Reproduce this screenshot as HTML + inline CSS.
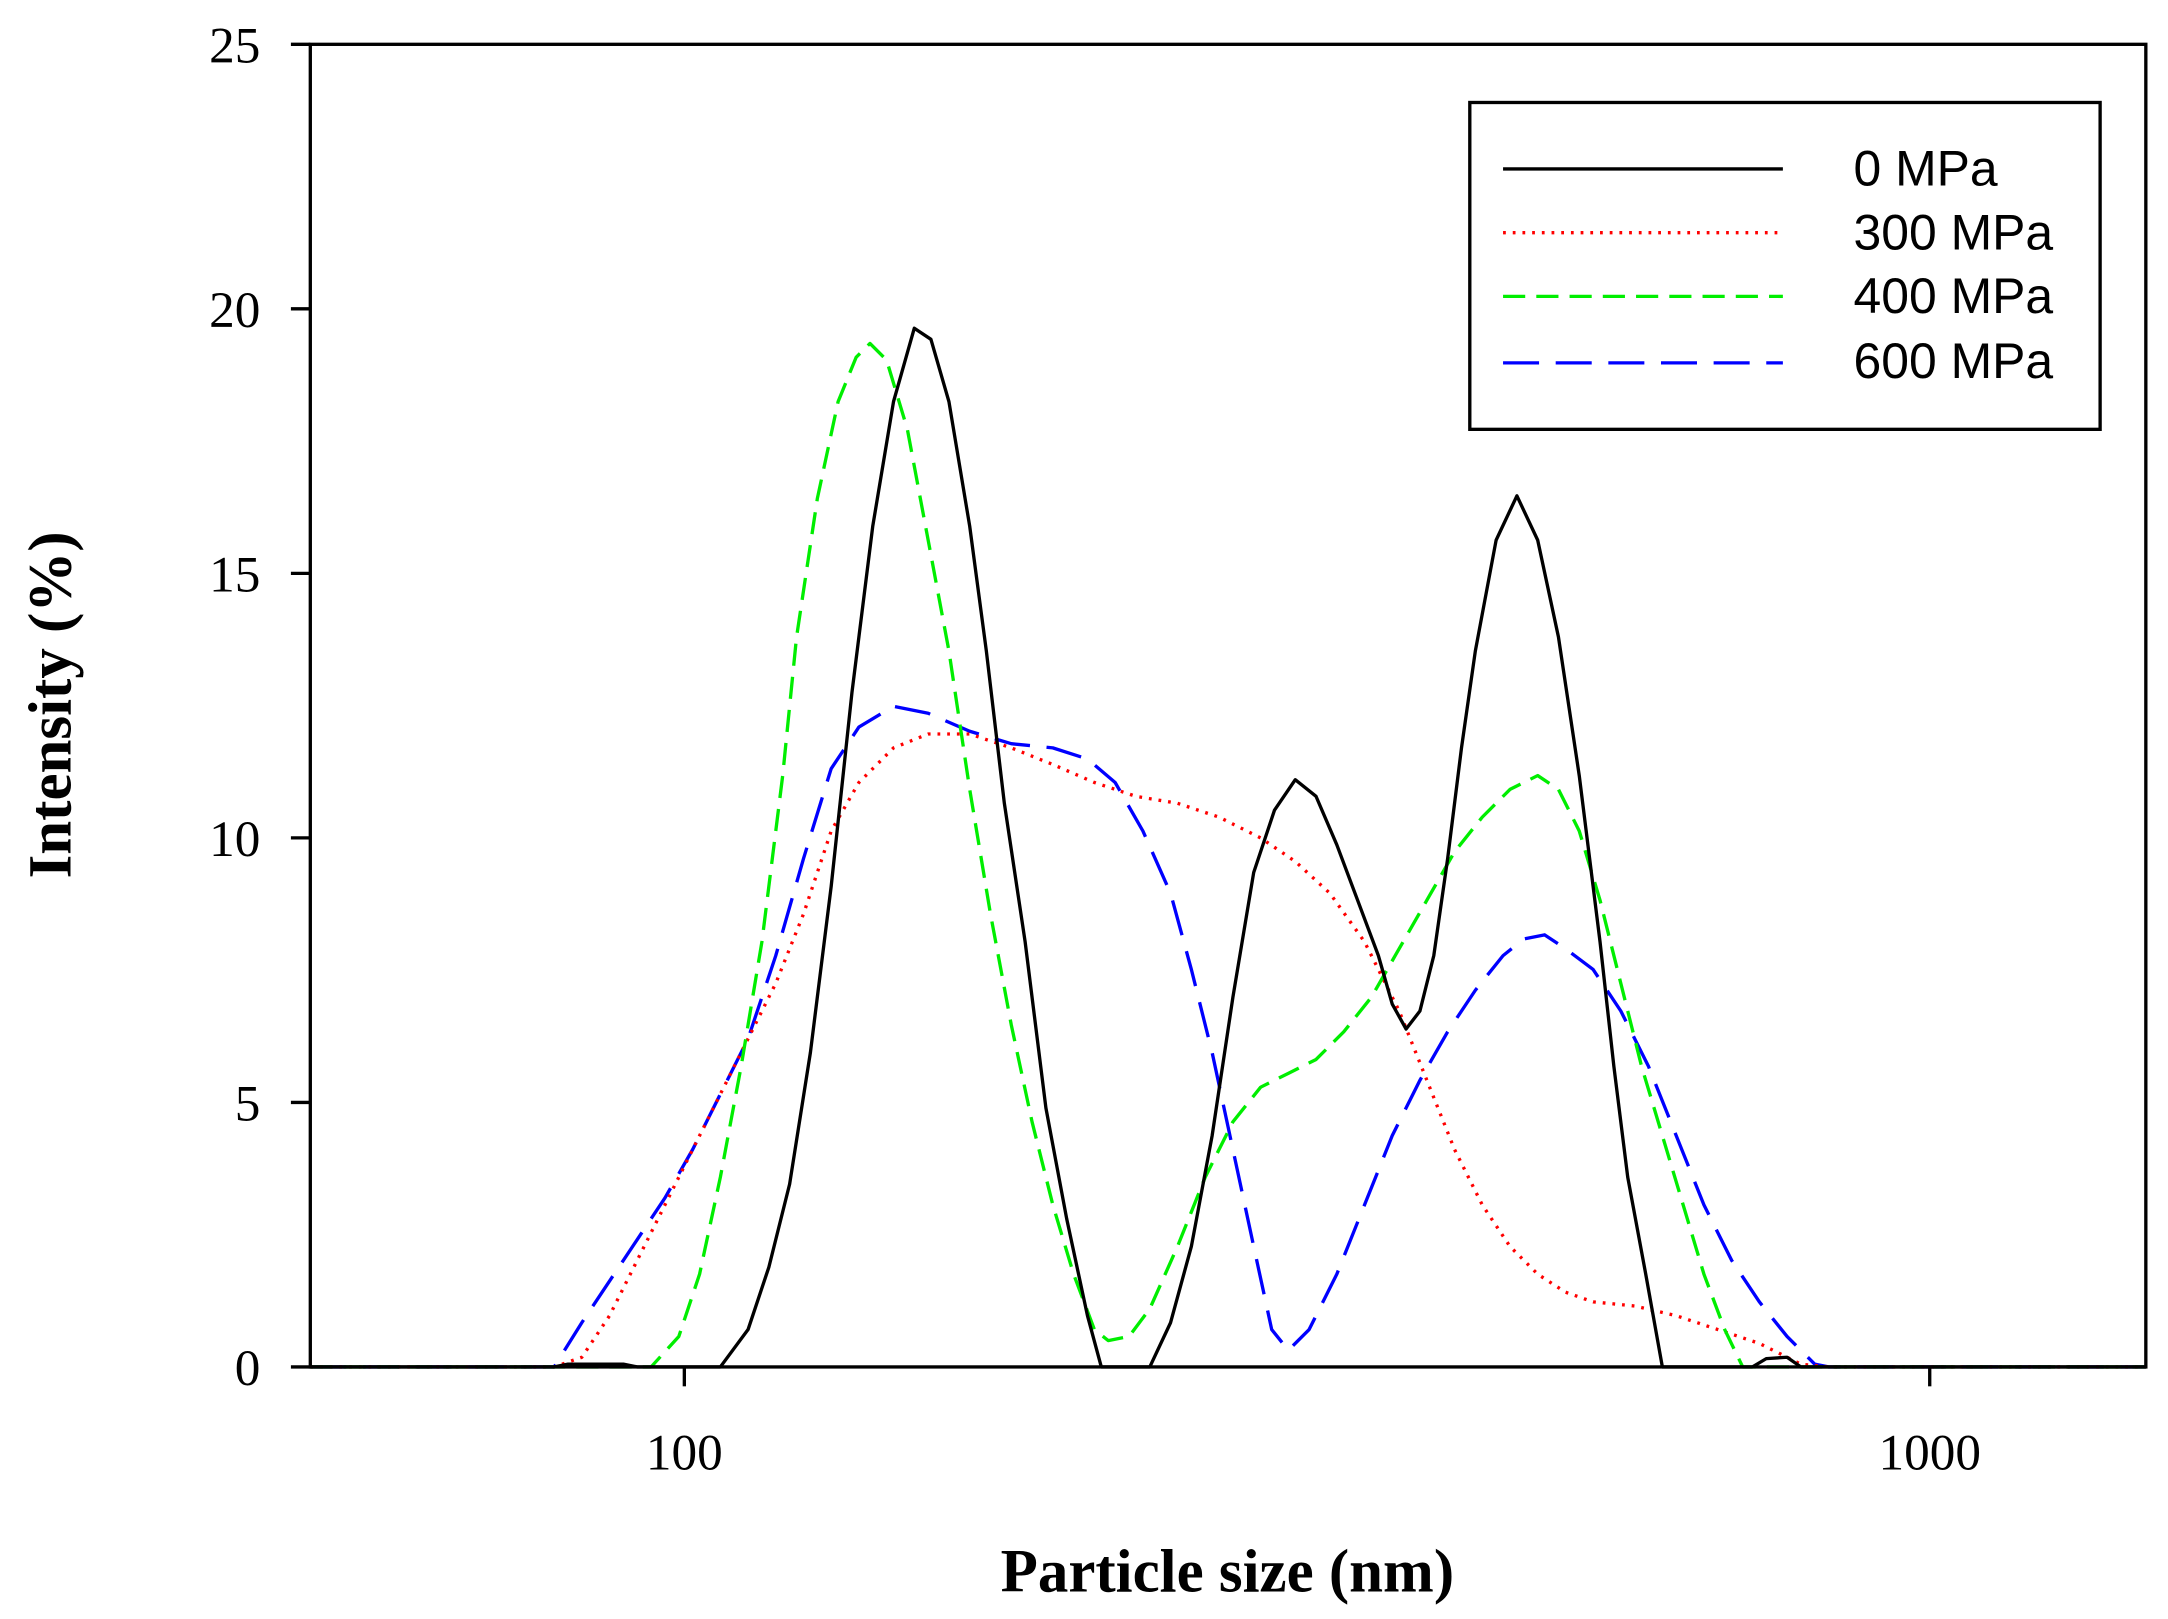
<!DOCTYPE html>
<html><head><meta charset="utf-8"><style>html,body{margin:0;padding:0;background:#fff}svg{display:block}</style></head>
<body>
<svg width="2168" height="1619" viewBox="0 0 1565 1169" preserveAspectRatio="none" xmlns="http://www.w3.org/2000/svg">
<rect width="1565" height="1169" fill="#fff"/>
<g fill="none" stroke-width="2.4" stroke-linejoin="round">
<polyline stroke="#0000ff" stroke-dasharray="26,12" points="224,987 400,987 420,955 440,925 460,895 480,865 500,830 520,790 540,750 560,690 580,620 600,555 620,525 645,510 670,515 700,528 730,537 760,540 785,548 805,565 825,600 845,645 860,700 875,760 890,830 905,900 918,960 930,975 945,960 965,920 985,870 1005,820 1025,780 1045,745 1065,715 1085,690 1100,678 1115,675 1130,685 1150,700 1170,730 1190,770 1210,820 1230,870 1250,910 1270,940 1290,965 1310,985 1320,987 1549,987"/>
<polyline stroke="#ff0000" stroke-dasharray="2,5" points="224,987 400,987 420,980 440,950 460,910 480,870 500,830 520,790 540,750 560,710 580,660 600,600 620,565 645,540 670,530 700,530 730,540 760,552 790,565 820,575 850,580 880,590 910,605 935,622 960,645 985,680 1010,730 1030,780 1050,830 1070,870 1090,900 1110,920 1130,933 1150,940 1180,943 1210,950 1240,960 1270,970 1300,985 1320,987 1549,987"/>
<polyline stroke="#00ee00" stroke-dasharray="16,8" points="224,987 470,987 490,965 505,920 520,850 535,770 550,680 565,560 575,460 590,360 605,290 618,258 628,248 640,260 655,310 670,390 685,470 700,570 715,660 730,740 745,810 760,870 775,920 790,960 800,968 815,965 830,945 850,900 870,850 890,810 910,785 930,775 950,765 970,745 990,720 1010,685 1030,650 1050,615 1070,590 1090,570 1110,560 1125,570 1140,600 1155,650 1170,710 1185,770 1200,820 1215,870 1230,920 1245,960 1258,987 1549,987"/>
<polyline stroke="#000" points="224,987 400,987 410,985 450,985 460,987 520,987 540,960 555,915 570,855 585,760 600,640 615,500 630,380 645,290 660,237 672,245 685,290 700,380 712,470 725,580 740,680 755,800 770,880 785,950 795,987 830,987 845,955 860,900 875,820 890,720 905,630 920,585 935,563 950,575 965,610 980,650 995,690 1005,725 1015,743 1025,730 1035,690 1045,620 1055,540 1065,470 1080,390 1095,358 1110,390 1125,460 1140,560 1155,680 1165,770 1175,850 1188,920 1200,987 1265,987 1275,981 1290,980 1300,987 1549,987"/>
</g>
<rect x="224" y="32" width="1325" height="955" fill="none" stroke="#000" stroke-width="2.4"/>
<g stroke="#000" stroke-width="2.4">
<line x1="210" y1="987" x2="224" y2="987"/><line x1="210" y1="796" x2="224" y2="796"/><line x1="210" y1="605" x2="224" y2="605"/><line x1="210" y1="414" x2="224" y2="414"/><line x1="210" y1="223" x2="224" y2="223"/><line x1="210" y1="32" x2="224" y2="32"/>
<line x1="494" y1="987" x2="494" y2="1001"/><line x1="1393" y1="987" x2="1393" y2="1001"/>
</g>
<g font-family="Liberation Serif, serif" font-size="37" text-anchor="end">
<text x="188" y="1000">0</text><text x="188" y="809">5</text><text x="188" y="618">10</text><text x="188" y="427">15</text><text x="188" y="236">20</text><text x="188" y="45">25</text>
</g>
<g font-family="Liberation Serif, serif" font-size="37" text-anchor="middle">
<text x="494" y="1061">100</text><text x="1393" y="1061">1000</text>
</g>
<text x="886" y="1149" font-family="Liberation Serif, serif" font-size="44" font-weight="bold" text-anchor="middle">Particle size (nm)</text>
<text transform="translate(51,509) rotate(-90)" font-family="Liberation Serif, serif" font-size="44" font-weight="bold" text-anchor="middle">Intensity (%)</text>
<rect x="1061" y="74" width="455" height="236" fill="#fff" stroke="#000" stroke-width="2.4"/>
<g stroke-width="2.4">
<line x1="1085" y1="122" x2="1287" y2="122" stroke="#000"/>
<line x1="1085" y1="168" x2="1287" y2="168" stroke="#ff0000" stroke-dasharray="2,5"/>
<line x1="1085" y1="214" x2="1287" y2="214" stroke="#00ee00" stroke-dasharray="16,8"/>
<line x1="1085" y1="262" x2="1287" y2="262" stroke="#0000ff" stroke-dasharray="26,12"/>
</g>
<g font-family="Liberation Sans, sans-serif" font-size="36">
<text x="1338" y="134">0 MPa</text><text x="1338" y="180">300 MPa</text><text x="1338" y="226">400 MPa</text><text x="1338" y="273">600 MPa</text>
</g>
</svg>
</body></html>
